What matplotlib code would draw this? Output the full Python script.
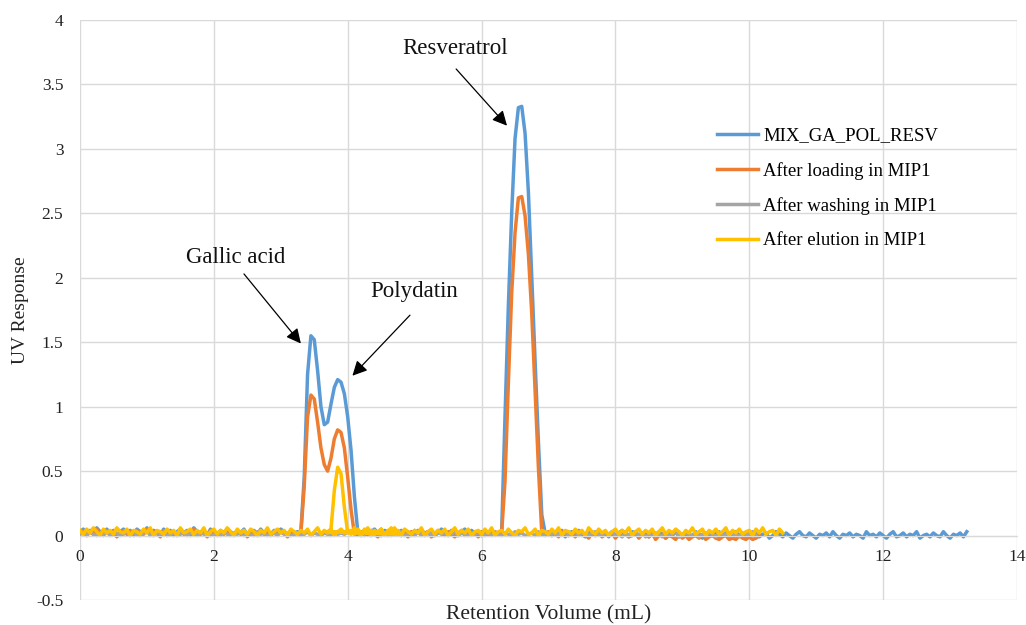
import numpy as np
import matplotlib
matplotlib.use("Agg")
import matplotlib.pyplot as plt

# ---------------- data (UV response in hundredths, sampled every 0.05 mL) ----------------
step = 0.05

# MIX_GA_POL_RESV
blue_segments = [
    (0.00, [3,5,1,4,2,6,3,1,5,2, 4,0,3,5,2,4,1,5,3,2, 6,1,4,3,0,5,2,4,1,3,
            5,2,4,1,6,3,2,4,0,5, 3,1,4,2,5,3,1,4,2,5, 0,3,4,1,5,2,3,1,4,2, 5,3,0,4,2,3]),
    (3.30, [3,45,125,155,152,128,100,86,88,102,115,121,119,110,92,66,30,3]),
    (4.20, [2,4,1,3,5,2,0,4,3,1, 5,2,4,1,3,0,4,2,5,1, 3,4,0,2,5,3,1,4,2,0, 3,5,1,4,2,3,0,4,1,3,2]),
    (6.25, [2,3,92,178,250,308,332,333,312,266,200,135,72,16,2]),
    (7.00, [2,0,3,1,4,-1,2,3,0,4, 1,-1,3,2,0,4,1,2,-1,3, 0,2,4,1,-1,3,2,0,1,3,
            -1,2,0,3,1,-2,2,0,3,-1, 1,2,-1,0,3,1,-2,2,0,1, 3,-1,0,2,1,-2,3,0,1,-1,
            2,0,3,-1,1,2,-2,0,3,1, -1,2,0,-2,1,3,0,-1,2,0, -2,1,0,2,-1,3,0,-2,1,0,
            2,-1,1,0,-2,3,0,1,-1,2, 0,-2,1,3,-1,0,2,-1,1,0, 3,-2,0,1,-1,2,0,-1,3,0,
            -2,1,0,2,-1,3])
]

# After loading in MIP1
orange_segments = [
    (0.00, [2,4,0,3,1,5,2,0,4,1, 3,-1,2,4,1,3,0,4,2,1, 5,0,3,2,-1,4,1,3,0,2,
            4,1,3,0,5,2,1,3,-1,4, 2,0,3,1,4,2,0,3,1,4, -1,2,3,0,4,1,2,0,3,1, 4,2,-1,3,1,2]),
    (3.30, [2,38,92,109,106,88,68,55,50,60,75,82,80,68,45,20,1]),
    (4.15, [1,3,0,2,4,1,-1,3,2,0, 4,1,3,0,2,-1,3,1,4,0, 2,3,-1,1,4,2,0,3,1,-1, 2,4,0,3,1,2,-1,3,0,2,1,3]),
    (6.25, [1,2,42,118,188,235,262,263,248,218,172,112,52,2]),
    (6.95, [1,3,0,2,-1,3,1,0,2,-1, 3,0,1,-2,2,0,3,-1,1,0, 2,-2,1,0,3,-1,0,2,-2,1,
            0,-1,2,-3,0,1,-2,0,-1,-3, 1,-2,0,-3,-1,0,-2,1,-3,-1, 0,-2,-3,-1,0,-3,-2,-3,0,-2,
            -3,-1,-3,-2,0])
]

# After washing in MIP1
gray_segments = [
    (0.00, [1,2,0,3,1,0,2,1,3,0, 1,2,0,1,3,0,2,1,0,2, 3,1,0,2,1,3,0,1,2,0,
            1,3,0,2,1,0,3,1,2,0, 1,2,0,3,1,0,2,1,3,0, 2,1,0,3,1,2,0,1,2,0, 3,1,2,0,1,2,
            0,1,3,0,2,1,0,2,1,0, 3,1,2,1,3,2,3,2,0,1, 2,0,1,3,0,2,1,0,2,1,
            3,0,1,2,0,3,1,0,2,1, 0,3,1,2,0,1,3,0,2,1, 0,2,1,3,0,1,2,0,3,1,
            0,2,1,0,3,1,2,0,1,2, 0,3,1,0,2,1,3,0,1,2, 0,1,3,0,2,1,0,2,3,1,
            0,2,1,3,0,1,-1,2,0,1, 3,0,2,-1,1,0,2,1,-1,2, 0,1,3,-1,0,2,1,0,2,-1,
            1,0,2,1,-1,3,0,1,2,0, 1,-1,2,0,1,3,0])
]

# After elution in MIP1
yellow_segments = [
    (0.00, [4,1,5,2,6,3,0,5,2,4, 1,6,3,2,5,0,4,3,1,5, 2,6,0,4,3,1,5,2,4,0,
            6,2,3,5,1,4,2,6,0,3, 5,1,4,2,6,3,0,5,2,4, 1,5,3,0,4,2,6,1,3,5, 2,4,0,5,3,1,
            4,2,5,0,3,6,1,4,2,5, 0,3,5,2,4,1,6,3,0,5, 2,4,1,3,5,0,4,2,6,1]),
    (3.70, [3,5,35,53,48,22,2]),
    (4.05, [4,1,5,2,3,6,0,4,2,5, 1,3,6,2,4,0,5,3,1,4, 2,6,0,3,5,1,4,2,5,0,
            3,6,1,4,2,5,0,3,4,1, 5,2,6,0,3,4,1,5,2,0, 4,3,6,1,2,5,0,4,3,1,
            5,2,6,0,4,3,1,5,2,4, 0,6,3,1,5,2,4,0,3,5, 1,4,2,6,0,3,5,1,4,2,
            5,0,3,6,1,4,2,5,3,0, 4,2,6,1,3,5,0,4,2,5, 1,3,6,0,4,2,5,1,3,4,
            0,5,2,6,1,3,4,0,5,2])
]

series_labels = ["MIX_GA_POL_RESV", "After loading in MIP1",
                 "After washing in MIP1", "After elution in MIP1"]
series_colors = ["#5B9BD5", "#ED7D31", "#A5A5A5", "#FFC000"]

peak_names = ["Resveratrol", "Gallic acid", "Polydatin"]
peak_text_xy = [(5.60, 3.78), (2.32, 2.16), (4.99, 1.89)]
peak_arrow_tail = [(5.62, 3.62), (2.45, 2.03), (4.93, 1.71)]
peak_arrow_tip = [(6.38, 3.18), (3.30, 1.49), (4.07, 1.24)]

x_ticks = [0, 2, 4, 6, 8, 10, 12, 14]
y_ticks = [-0.5, 0, 0.5, 1, 1.5, 2, 2.5, 3, 3.5, 4]


def build(segments):
    xs, ys = [], []
    for x0, vals in segments:
        v = np.asarray(vals, dtype=float) / 100.0
        xs.append(x0 + step * np.arange(len(v)))
        ys.append(v)
    return np.concatenate(xs), np.concatenate(ys)


plt.rcParams['font.family'] = ['Liberation Serif', 'DejaVu Serif']

fig = plt.figure(figsize=(10.26, 6.25), dpi=100)
ax = fig.add_axes([80/1026, 25/625, 937/1026, 580/625])

for segs, lab, col in zip([blue_segments, orange_segments, gray_segments, yellow_segments],
                          series_labels, series_colors):
    x, y = build(segs)
    ax.plot(x, y, color=col, lw=2.5, label=lab, solid_joinstyle='round')

ax.set_xlim(0, 14)
ax.set_ylim(-0.5, 4)
ax.set_xticks(x_ticks)
ax.set_yticks(y_ticks)
ax.set_xticklabels([str(t) for t in x_ticks])
ax.set_yticklabels([("%g" % t) for t in y_ticks])
ax.grid(True, color="#D9D9D9", lw=1.0)
ax.set_axisbelow(True)
for s in ['top', 'right', 'left']:
    ax.spines[s].set_visible(False)
ax.spines['bottom'].set_position(('data', 0))
ax.spines['bottom'].set_color('#D9D9D9')
ax.tick_params(axis='both', length=0, labelsize=12.5, colors='#222222')
ax.tick_params(axis='y', pad=12)
ax.tick_params(axis='x', pad=10)

ax.set_xlabel("Retention Volume (mL)", fontsize=15.5, color='#222222')
ax.xaxis.set_label_coords(0.5, -0.026)
ax.xaxis.label.set_va('center')
ax.set_ylabel("UV Response", fontsize=14, color='#222222')
ax.yaxis.set_label_coords(-0.064, 0.5)
ax.yaxis.label.set_va('center')

for name, txy, tail, tip in zip(peak_names, peak_text_xy, peak_arrow_tail, peak_arrow_tip):
    ax.text(txy[0], txy[1], name, fontsize=16.5, ha='center', va='center', color='#111111')
    ax.annotate("", xy=tip, xytext=tail,
                arrowprops=dict(arrowstyle='-|>', color='black', lw=0.9,
                                mutation_scale=22, shrinkA=0, shrinkB=0))

leg = ax.legend(loc='upper left', bbox_to_anchor=(629/937, (600-120)/580),
                frameon=False, fontsize=13.5, handlelength=2.2, handletextpad=0.3,
                labelspacing=0.92, borderaxespad=0)
for line in leg.get_lines():
    line.set_linewidth(2.5)

fig.savefig("out.png", dpi=100)
